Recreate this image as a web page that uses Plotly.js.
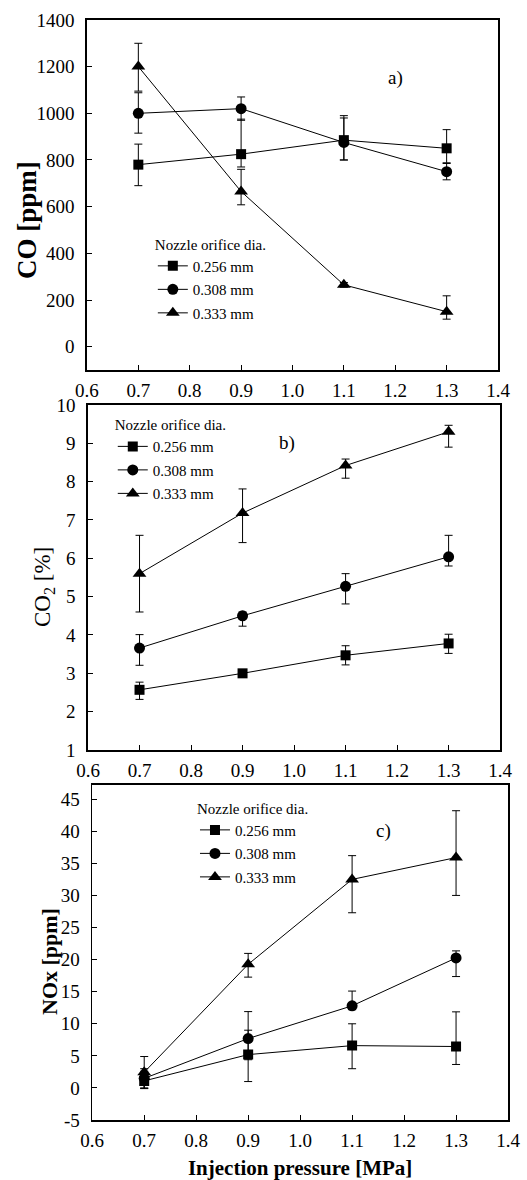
<!DOCTYPE html>
<html><head><meta charset="utf-8">
<script src="https://cdn.plot.ly/plotly-3.0.1.min.js"></script>
<style>html,body{margin:0;padding:0;background:#fff}</style>
</head><body><div id="chart" style="width:527px;height:1180px"></div>
<script>
// ---- data ----
const pressure = [0.7, 0.9, 1.1, 1.3];
const nozzleLabels = ['0.256 mm', '0.308 mm', '0.333 mm'];
const legendTitle = 'Nozzle orifice dia.';
const panelTags = ['a)', 'b)', 'c)'];
const yTitles = ['CO [ppm]', 'CO<sub>2</sub> [%]', 'NOx [ppm]'];
const xTitle = 'Injection pressure [MPa]';
const noxTickVals = [-5, 0, 5, 10, 15, 20, 25, 30, 35, 40, 45];
const noxTickText = ['-5', '0', '5', '10', '15', '20', '25', '30', '35', '40', '45'];

// a) CO [ppm]
const co256 = [780, 825, 885, 850];
const co256Plus = [88, 150, 105, 80];
const co256Minus = [90, 55, 85, 62];
const co308 = [1000, 1020, 875, 750];
const co308Plus = [88, 50, 105, 35];
const co308Minus = [85, 50, 75, 35];
const co333 = [1200, 665, 265, 150];
const co333Plus = [100, 95, 10, 68];
const co333Minus = [105, 57, 10, 32];

// b) CO2 [%]
const co2_256 = [2.57, 3.0, 3.47, 3.78];
const co2_256Plus = [0.2, 0.05, 0.25, 0.24];
const co2_256Minus = [0.25, 0.05, 0.25, 0.26];
const co2_308 = [3.66, 4.5, 5.27, 6.04];
const co2_308Plus = [0.35, 0.1, 0.33, 0.56];
const co2_308Minus = [0.45, 0.27, 0.46, 0.24];
const co2_333 = [5.6, 7.18, 8.42, 9.3];
const co2_333Plus = [1.0, 0.63, 0.17, 0.17];
const co2_333Minus = [1.0, 0.77, 0.33, 0.4];

// c) NOx [ppm]
const nox256 = [1.1, 5.2, 6.6, 6.46];
const nox256Plus = [1.5, 3.8, 3.4, 5.4];
const nox256Minus = [1.2, 4.2, 3.6, 2.8];
const nox308 = [1.5, 7.7, 12.8, 20.26];
const nox308Plus = [1.5, 4.2, 2.3, 1.1];
const nox308Minus = [1.5, 3.3, 0.6, 2.9];
const nox333 = [2.45, 19.27, 32.5, 35.9];
const nox333Plus = [2.45, 1.7, 3.7, 7.3];
const nox333Minus = [2.5, 2.0, 5.2, 5.9];

// ---- style ----
const FONT = 'Liberation Serif';
const symbols = ['square', 'circle', 'triangle-up'];
const msizes = [10, 11, 12];

const panels = [
  {xa: 'x', ya: 'y', leg: 'legend', series: [[co256, co256Plus, co256Minus], [co308, co308Plus, co308Minus], [co333, co333Plus, co333Minus]]},
  {xa: 'x2', ya: 'y2', leg: 'legend2', series: [[co2_256, co2_256Plus, co2_256Minus], [co2_308, co2_308Plus, co2_308Minus], [co2_333, co2_333Plus, co2_333Minus]]},
  {xa: 'x3', ya: 'y3', leg: 'legend3', series: [[nox256, nox256Plus, nox256Minus], [nox308, nox308Plus, nox308Minus], [nox333, nox333Plus, nox333Minus]]}
];

const traces = [];
panels.forEach((p, pi) => {
  p.series.forEach((s, si) => {
    traces.push({
      type: 'scatter', mode: 'lines+markers',
      x: pressure, y: s[0],
      xaxis: p.xa, yaxis: p.ya,
      name: nozzleLabels[si],
      legend: p.leg,
      legendgroup: 'g' + pi + si,
      line: {color: '#000', width: 1},
      marker: {symbol: symbols[si], size: msizes[si], color: '#000'},
      error_y: {type: 'data', symmetric: false, array: s[1], arrayminus: s[2], color: '#000', thickness: 1, width: 4}
    });
  });
});

function xax(domain, anchor) {
  return {domain: domain, anchor: anchor, range: [0.6, 1.4], tick0: 0.6, dtick: 0.1, tickformat: '.1f',
    ticks: 'inside', ticklen: 5, tickcolor: '#000', showline: true, linewidth: 1.6, linecolor: '#000', mirror: true,
    ticklabelstandoff: 3,
    showgrid: false, zeroline: false, tickfont: {family: FONT, size: 19, color: '#000'}};
}
function yax(domain, anchor, range, dtick) {
  return {domain: domain, anchor: anchor, range: range, dtick: dtick,
    ticks: 'inside', ticklen: 5, tickcolor: '#000', showline: true, linewidth: 1.6, linecolor: '#000', mirror: true,
    ticklabelstandoff: 7,
    showgrid: false, zeroline: false, tickfont: {family: FONT, size: 19, color: '#000'}};
}
function leg(x, y) {
  return {x: x, y: y, xanchor: 'left', yanchor: 'top', bgcolor: 'rgba(0,0,0,0)', borderwidth: 0,
    font: {family: FONT, size: 15, color: '#000'}, tracegroupgap: 1, itemwidth: 30,
    title: {text: legendTitle, side: 'top', font: {family: FONT, size: 15, color: '#000'}}};
}
function ytitle(text, x, y, size, bold) {
  return {xref: 'paper', yref: 'paper', x: x / 527, y: 1 - y / 1180, xanchor: 'center', yanchor: 'middle',
    text: text, textangle: -90, showarrow: false,
    font: {family: FONT, size: size, color: '#000', weight: bold ? 'bold' : 'normal'}};
}

const y3 = yax([0.0508, 0.3347], 'x3', [-5, 47.2], 5);
y3.tickmode = 'array'; y3.tickvals = noxTickVals; y3.ticktext = noxTickText;

const layout = {
  width: 527, height: 1180,
  margin: {l: 0, r: 0, t: 0, b: 0},
  paper_bgcolor: '#fff', plot_bgcolor: '#fff',
  showlegend: true,
  xaxis: xax([0.165, 0.945], 'y'),
  yaxis: yax([0.6864, 0.9831], 'x', [-100, 1400], 200),
  xaxis2: xax([0.167, 0.949], 'y2'),
  yaxis2: yax([0.3644, 0.6568], 'x2', [1, 10], 1),
  xaxis3: Object.assign(xax([0.175, 0.964], 'y3'), {title: {text: xTitle, standoff: 14, font: {family: FONT, size: 21, color: '#000', weight: 'bold'}}}),
  yaxis3: y3,
  legend: leg(0.29, 0.805),
  legend2: leg(0.214, 0.652),
  legend3: leg(0.37, 0.327),
  annotations: [
    {xref: 'x', yref: 'y', x: 1.2, y: 1150, text: panelTags[0], showarrow: false, font: {family: FONT, size: 19, color: '#000'}},
    {xref: 'x2', yref: 'y2', x: 0.986, y: 9.0, text: panelTags[1], showarrow: false, font: {family: FONT, size: 19, color: '#000'}},
    {xref: 'x3', yref: 'y3', x: 1.16, y: 40, text: panelTags[2], showarrow: false, font: {family: FONT, size: 19, color: '#000'}},
    ytitle(yTitles[0], 27, 220, 27, true),
    ytitle(yTitles[1], 44, 587, 23, false),
    ytitle(yTitles[2], 49, 962, 22, true)
  ]
};

Plotly.newPlot('chart', traces, layout, {staticPlot: true, displayModeBar: false});
</script></body></html>
